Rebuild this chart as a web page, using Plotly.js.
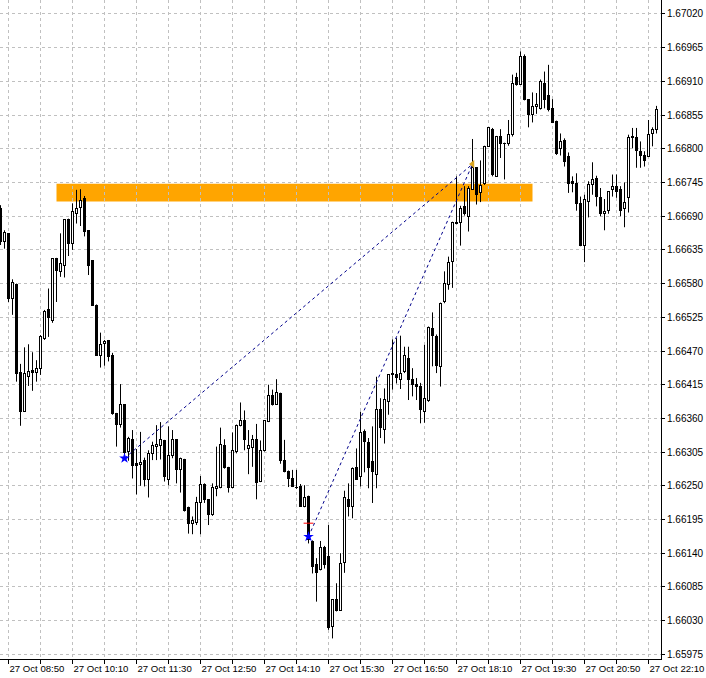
<!DOCTYPE html>
<html>
<head>
<meta charset="utf-8">
<script src="https://cdn.plot.ly/plotly-3.0.1.min.js"></script>
<style>html,body{margin:0;padding:0;background:#fff;}#chart{width:706px;height:678px;}</style>
</head>
<body>
<div id="chart"></div>
<script>
// 5-minute bars, 27 Oct, first bar 08:40
const firstBar = "2023-10-27 08:40";
const barMinutes = 5;

const openP = [
1.66703,1.66648,1.66661,1.66555,1.66579,1.66435,1.66371,1.66428,1.66439,1.66435,
1.66442,1.66490,1.66538,1.66519,1.66621,1.66599,1.66609,1.66685,1.66645,1.66695,
1.66704,1.66719,1.66666,1.66617,1.66545,1.66463,1.66482,1.66487,1.66463,1.66368,
1.66350,1.66382,1.66306,1.66326,1.66286,1.66285,1.66291,1.66261,1.66303,1.66314,
1.66316,1.66324,1.66261,1.66299,1.66325,1.66277,1.66293,1.66215,1.66189,1.66190,
1.66222,1.66252,1.66227,1.66204,1.66246,1.66247,1.66315,1.66280,1.66247,1.66306,
1.66349,1.66357,1.66311,1.66313,1.66325,1.66257,1.66307,1.66355,1.66398,1.66383,
1.66401,1.66292,1.66274,1.66262,1.66248,1.66249,1.66216,1.66233,1.66159,1.66121,
1.66113,1.66150,1.66135,1.66020,1.66065,1.66047,1.66125,1.66228,1.66217,1.66280,
1.66265,1.66339,1.66321,1.66290,1.66269,1.66374,1.66342,1.66387,1.66434,1.66431,
1.66424,1.66436,1.66457,1.66423,1.66415,1.66412,1.66371,1.66389,1.66507,1.66494,
1.66445,1.66551,1.66578,1.66616,1.66678,1.66680,1.66706,1.66690,1.66734,1.66769,
1.66728,1.66743,1.66804,1.66832,1.66755,1.66820,1.66809,1.66808,1.66823,1.66917,
1.66905,1.66951,1.66880,1.66856,1.66869,1.66866,1.66907,1.66887,1.66866,1.66845,
1.66800,1.66814,1.66788,1.66746,1.66743,1.66711,1.66643,1.66714,1.66741,1.66751,
1.66720,1.66695,1.66699,1.66733,1.66738,1.66733,1.66702,1.66720,1.66820,1.66818,
1.66796,1.66789,1.66788,1.66825,1.66831
];
const highP = [
1.66708,1.66667,1.66662,1.66587,1.66580,1.66449,1.66476,1.66481,1.66468,1.66455,
1.66496,1.66537,1.66572,1.66621,1.66622,1.66662,1.66685,1.66686,1.66711,1.66733,
1.66734,1.66723,1.66667,1.66618,1.66546,1.66500,1.66488,1.66488,1.66467,1.66369,
1.66416,1.66383,1.66330,1.66341,1.66310,1.66338,1.66296,1.66308,1.66322,1.66349,
1.66354,1.66325,1.66347,1.66341,1.66326,1.66296,1.66294,1.66216,1.66200,1.66232,
1.66266,1.66254,1.66228,1.66254,1.66314,1.66345,1.66326,1.66281,1.66337,1.66350,
1.66386,1.66373,1.66341,1.66333,1.66351,1.66324,1.66357,1.66415,1.66407,1.66424,
1.66402,1.66325,1.66275,1.66276,1.66276,1.66253,1.66251,1.66234,1.66161,1.66132,
1.66160,1.66152,1.66186,1.66065,1.66091,1.66140,1.66242,1.66254,1.66280,1.66311,
1.66371,1.66342,1.66328,1.66347,1.66428,1.66393,1.66409,1.66432,1.66489,1.66491,
1.66495,1.66477,1.66477,1.66442,1.66426,1.66418,1.66480,1.66510,1.66533,1.66497,
1.66549,1.66600,1.66624,1.66681,1.66755,1.66707,1.66739,1.66739,1.66816,1.66770,
1.66781,1.66805,1.66835,1.66834,1.66821,1.66832,1.66810,1.66847,1.66921,1.66924,
1.66959,1.66954,1.66881,1.66892,1.66891,1.66913,1.66926,1.66937,1.66881,1.66846,
1.66825,1.66817,1.66794,1.66755,1.66760,1.66722,1.66725,1.66747,1.66778,1.66756,
1.66736,1.66718,1.66731,1.66758,1.66758,1.66739,1.66745,1.66823,1.66834,1.66834,
1.66812,1.66796,1.66847,1.66835,1.66870
];
const lowP = [
1.66643,1.66637,1.66550,1.66529,1.66420,1.66348,1.66371,1.66413,1.66405,1.66420,
1.66431,1.66488,1.66493,1.66516,1.66550,1.66591,1.66590,1.66625,1.66635,1.66678,
1.66674,1.66657,1.66594,1.66544,1.66462,1.66443,1.66446,1.66453,1.66366,1.66314,
1.66345,1.66295,1.66291,1.66262,1.66236,1.66250,1.66249,1.66231,1.66292,1.66292,
1.66293,1.66257,1.66251,1.66295,1.66254,1.66239,1.66208,1.66172,1.66171,1.66186,
1.66171,1.66222,1.66186,1.66201,1.66233,1.66246,1.66278,1.66239,1.66246,1.66303,
1.66347,1.66308,1.66269,1.66281,1.66228,1.66256,1.66306,1.66354,1.66381,1.66382,
1.66286,1.66272,1.66248,1.66248,1.66245,1.66216,1.66215,1.66156,1.66107,1.66061,
1.66112,1.66115,1.66015,1.66001,1.66045,1.66046,1.66108,1.66200,1.66197,1.66260,
1.66249,1.66272,1.66246,1.66222,1.66246,1.66328,1.66319,1.66366,1.66407,1.66417,
1.66408,1.66434,1.66390,1.66396,1.66390,1.66352,1.66353,1.66387,1.66445,1.66434,
1.66412,1.66548,1.66570,1.66573,1.66677,1.66642,1.66691,1.66665,1.66733,1.66709,
1.66713,1.66741,1.66803,1.66755,1.66754,1.66785,1.66750,1.66805,1.66820,1.66903,
1.66904,1.66879,1.66835,1.66843,1.66857,1.66864,1.66866,1.66861,1.66842,1.66790,
1.66789,1.66771,1.66728,1.66729,1.66699,1.66641,1.66615,1.66688,1.66725,1.66706,
1.66690,1.66667,1.66694,1.66722,1.66720,1.66690,1.66672,1.66696,1.66801,1.66769,
1.66769,1.66771,1.66787,1.66804,1.66825
];
const closeP = [
1.66648,1.66663,1.66555,1.66582,1.66433,1.66371,1.66433,1.66437,1.66435,1.66442,
1.66493,1.66535,1.66525,1.66621,1.66601,1.66612,1.66685,1.66645,1.66697,1.66703,
1.66716,1.66665,1.66609,1.66544,1.66462,1.66481,1.66486,1.66461,1.66368,1.66350,
1.66382,1.66305,1.66327,1.66283,1.66283,1.66288,1.66261,1.66302,1.66315,1.66318,
1.66325,1.66266,1.66300,1.66325,1.66277,1.66294,1.66209,1.66188,1.66193,1.66223,
1.66252,1.66227,1.66204,1.66248,1.66249,1.66317,1.66280,1.66247,1.66307,1.66349,
1.66357,1.66325,1.66315,1.66325,1.66256,1.66308,1.66356,1.66398,1.66382,1.66403,
1.66291,1.66273,1.66262,1.66249,1.66247,1.66217,1.66231,1.66162,1.66119,1.66108,
1.66150,1.66121,1.66018,1.66065,1.66046,1.66124,1.66231,1.66217,1.66279,1.66261,
1.66337,1.66322,1.66280,1.66273,1.66374,1.66346,1.66391,1.66431,1.66431,1.66426,
1.66433,1.66462,1.66424,1.66415,1.66412,1.66374,1.66393,1.66508,1.66496,1.66446,
1.66548,1.66580,1.66614,1.66679,1.66680,1.66703,1.66694,1.66736,1.66769,1.66725,
1.66740,1.66804,1.66834,1.66758,1.66820,1.66808,1.66808,1.66823,1.66906,1.66905,
1.66951,1.66880,1.66856,1.66869,1.66873,1.66910,1.66881,1.66864,1.66843,1.66793,
1.66812,1.66779,1.66743,1.66744,1.66711,1.66642,1.66718,1.66741,1.66750,1.66722,
1.66694,1.66698,1.66730,1.66738,1.66730,1.66699,1.66712,1.66819,1.66818,1.66797,
1.66789,1.66781,1.66824,1.66831,1.66864
];

// Objects drawn on the chart
const zoneTimes = ["2023-10-27 09:50", "2023-10-27 19:45"];
const zonePrices = [1.66714, 1.66743];
const line1Times = ["2023-10-27 11:15", "2023-10-27 18:30"];
const line1Prices = [1.66295, 1.66775];
const line2Times = ["2023-10-27 15:05", "2023-10-27 18:30"];
const line2Prices = [1.66167, 1.66775];
const starTimes = ["2023-10-27 11:15", "2023-10-27 15:05"];
const starPrices = [1.66295, 1.66167];
const tipTimes = ["2023-10-27 18:30"];
const tipPrices = [1.66775];
const redTimes = ["2023-10-27 15:05"];
const redPrices = [1.66189];

// ---- view settings ----
const W = 706, H = 678, M = {l: 0, r: 45, t: 0, b: 19};
const xRange = ["2023-10-27 08:39:22.5", "2023-10-27 22:25:37.5"];
const yRange = [1.659674, 1.670428];
const plotH = H - M.t - M.b;
const pxPrice = (yRange[1] - yRange[0]) / plotH;   // one screen pixel in price units
const pxMs = 75000;                                  // one screen pixel in ms (4 px per 5-minute bar)

function pad(n){return (n<10?"0":"")+n;}
const t0 = new Date(firstBar.replace(" ","T")+":00Z").getTime();
const times = openP.map((_, i) => {
  const d = new Date(t0 + i*barMinutes*60000);
  return d.getUTCFullYear()+"-"+pad(d.getUTCMonth()+1)+"-"+pad(d.getUTCDate())+" "+pad(d.getUTCHours())+":"+pad(d.getUTCMinutes());
});

// bodies
const bodyTop = openP.map((o, i) => Math.max(o, closeP[i]));
const bodyBase = openP.map((o, i) => Math.min(o, closeP[i]));
const bodyLen = openP.map((o, i) => Math.abs(closeP[i] - o));
const isUp = openP.map((o, i) => closeP[i] > o);
// outer (black) body including the 1px outline
const outerBase = bodyBase.map(b => b - 0.5*pxPrice);
const outerLen = bodyLen.map(l => l + pxPrice);
// hollow interior for rising bars
const innerBase = bodyBase.map((b, i) => isUp[i] && bodyLen[i] > pxPrice ? b + 0.5*pxPrice : null);
const innerLen = bodyLen.map((l, i) => isUp[i] && l > pxPrice ? l - pxPrice : null);
// wicks: upper and lower shadows
const wickX = [], wickY = [];
times.forEach((t, i) => {
  wickX.push(t, t, null, t, t, null);
  wickY.push(highP[i], bodyTop[i], null, bodyBase[i], lowP[i], null);
});

const font = {family: "Liberation Sans, Arial, sans-serif", size: 10, color: "#000"};

const traces = [
  {type: "bar", x: times, y: outerLen, base: outerBase, width: 3*pxMs,
   marker: {color: "#000000", line: {width: 0}}, showlegend: false, hoverinfo: "skip"},
  {type: "bar", x: times, y: innerLen, base: innerBase, width: pxMs,
   marker: {color: "#ffffff", line: {width: 0}}, showlegend: false, hoverinfo: "skip"},
  {type: "scatter", mode: "lines", x: wickX, y: wickY, connectgaps: false,
   line: {color: "#000", width: 1}, showlegend: false, hoverinfo: "skip"},
  {type: "scatter", mode: "lines", x: line1Times, y: line1Prices,
   line: {color: "#00008b", width: 1, dash: "3px,3px"}, showlegend: false, hoverinfo: "skip"},
  {type: "scatter", mode: "lines", x: line2Times, y: line2Prices,
   line: {color: "#00008b", width: 1, dash: "3px,3px"}, showlegend: false, hoverinfo: "skip"},
  {type: "scatter", mode: "markers", x: starTimes, y: starPrices,
   marker: {symbol: "star", size: 8, color: "#0000ff"}, showlegend: false, hoverinfo: "skip"},
  {type: "scatter", mode: "markers", x: tipTimes, y: tipPrices,
   marker: {symbol: "triangle-left", size: 7, color: "#daa520"}, showlegend: false, hoverinfo: "skip"},
  {type: "scatter", mode: "markers", x: redTimes, y: redPrices,
   marker: {symbol: "line-ew", size: 7, line: {color: "#ff0000", width: 1}}, showlegend: false, hoverinfo: "skip"}
];

const layout = {
  width: W, height: H,
  margin: {l: M.l, r: M.r, t: M.t, b: M.b, pad: 0},
  paper_bgcolor: "#ffffff", plot_bgcolor: "#ffffff",
  font: font,
  showlegend: false,
  bargap: 0, bargroupgap: 0, barmode: "overlay",
  xaxis: {
    type: "date",
    range: xRange,
    tick0: "2023-10-27 08:50", dtick: 80*60000,
    tickformat: "%d %b %H:%M",
    tickangle: 0,
    ticks: "outside", ticklen: 4, tickcolor: "#000",
    ticklabelposition: "outside right",
    ticklabeloverflow: "allow",
    showgrid: true, gridcolor: "#c0c0c0", griddash: "3px,3px", gridwidth: 1,
    minor: {tick0: "2023-10-27 09:30", dtick: 80*60000, showgrid: true, gridcolor: "#c0c0c0", griddash: "3px,3px",
            ticks: "outside", ticklen: 4, tickcolor: "#000"},
    showline: true, linecolor: "#000", linewidth: 1,
    zeroline: false, fixedrange: true, tickfont: {family: font.family, size: 9.6, color: "#000"}
  },
  yaxis: {
    side: "right",
    range: yRange,
    tick0: 1.67020, dtick: 0.00055,
    tickformat: ".5f",
    ticks: "outside", ticklen: 3, tickcolor: "#000",
    ticklabeloverflow: "allow",
    showgrid: true, gridcolor: "#c0c0c0", griddash: "3px,3px", gridwidth: 1,
    showline: true, linecolor: "#000", linewidth: 1,
    zeroline: false, fixedrange: true, tickfont: font
  },
  shapes: [{
    type: "rect", xref: "x", yref: "y",
    x0: zoneTimes[0], x1: zoneTimes[1], y0: zonePrices[0], y1: zonePrices[1],
    fillcolor: "#ffa500", line: {width: 0}, layer: "below"
  }]
};

Plotly.newPlot("chart", traces, layout, {displayModeBar: false, staticPlot: true});
</script>
</body>
</html>
